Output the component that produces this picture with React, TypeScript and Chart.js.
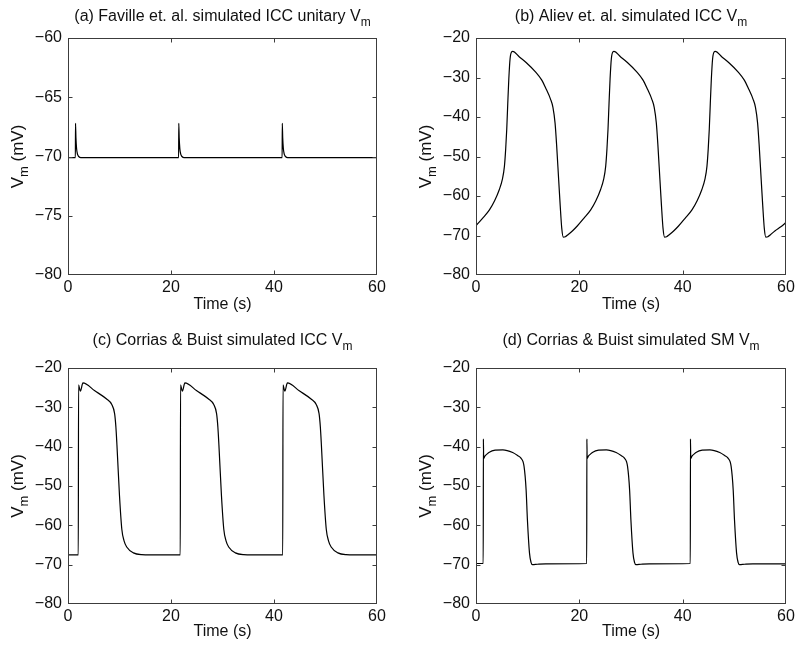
import React, { useEffect, useRef } from "react";
import { Chart, registerables } from "chart.js";

Chart.register(...registerables);

const FONT = "'Liberation Sans', Arial, Helvetica, sans-serif";
const INK = "#111111";

// ---------- shared axis values ----------
const timeTicks = [0, 20, 40, 60];
const faVmTicks = [-80, -75, -70, -65, -60];
const vmTicks = [-80, -70, -60, -50, -40, -30, -20];

// ---------- (a) Faville et al. ICC unitary Vm ----------
const aTime = [
  0, 1.43, 1.46, 1.54, 1.66, 1.84, 2.08, 2.5,
  21.48, 21.51, 21.59, 21.71, 21.89, 22.13, 22.55,
  41.58, 41.61, 41.69, 41.81, 41.99, 42.23, 42.65,
  60,
];
const aVm = [
  -70.1, -70.1, -67.2, -68.4, -69.3, -69.8, -70.0, -70.1,
  -70.1, -67.2, -68.4, -69.3, -69.8, -70.0, -70.1,
  -70.1, -67.2, -68.4, -69.3, -69.8, -70.0, -70.1,
  -70.1,
];

// ---------- (b) Aliev et al. ICC Vm ----------
const bTime = [
  0, 1.3, 2.6, 3.6, 4.5, 5.1, 5.5, 5.75, 5.95, 6.15, 6.35, 6.6, 6.9, 7.1,
  8.4, 9.7, 11.6, 12.7, 13.6, 14.4, 14.9, 15.3, 15.6, 16.0, 16.3, 16.6, 16.9, 17.3, 17.8, 18.7,
  19.6, 20.9, 22.2, 23.2, 24.1, 24.7, 25.1, 25.35, 25.55, 25.75, 25.95, 26.2, 26.5, 26.7,
  28.0, 29.3, 31.2, 32.3, 33.2, 34.0, 34.5, 34.9, 35.2, 35.6, 35.9, 36.2, 36.5, 36.9, 37.4, 38.3,
  39.2, 40.5, 41.8, 42.8, 43.7, 44.3, 44.7, 44.95, 45.15, 45.35, 45.55, 45.8, 46.1, 46.3,
  47.6, 48.9, 50.8, 51.9, 52.8, 53.6, 54.1, 54.5, 54.8, 55.2, 55.5, 55.8, 56.1, 56.5, 57.0, 57.9,
  59.0, 60,
];
const bVm = [
  -67.5, -65.6, -63.5, -61.2, -58.4, -55.8, -52.5, -48.0, -43.1, -36.5, -30.4, -25.2, -23.5, -23.4,
  -24.8, -26.2, -28.7, -30.6, -33.0, -35.4, -37.6, -41.5, -47.0, -55.9, -62.5, -68.2, -70.4, -70.3, -69.8, -68.8,
  -67.6, -65.6, -63.5, -61.2, -58.4, -55.8, -52.5, -48.0, -43.1, -36.5, -30.4, -25.2, -23.5, -23.4,
  -24.8, -26.2, -28.7, -30.6, -33.0, -35.4, -37.6, -41.5, -47.0, -55.9, -62.5, -68.2, -70.4, -70.3, -69.8, -68.8,
  -67.6, -65.6, -63.5, -61.2, -58.4, -55.8, -52.5, -48.0, -43.1, -36.5, -30.4, -25.2, -23.5, -23.4,
  -24.8, -26.2, -28.7, -30.6, -33.0, -35.4, -37.6, -41.5, -47.0, -55.9, -62.5, -68.2, -70.4, -70.3, -69.8, -68.8,
  -67.8, -66.7,
];

// ---------- (c) Corrias & Buist ICC Vm ----------
const cTime = [
  0, 2.0, 2.05, 2.4, 2.9, 5.2, 7.5, 8.5, 9.05, 9.3, 9.5, 10.0, 10.45, 10.9, 11.4, 12.7, 14.3, 16.0,
  21.8, 21.85, 22.2, 22.7, 25.0, 27.3, 28.3, 28.85, 29.1, 29.3, 29.8, 30.25, 30.7, 31.2, 32.5, 34.1, 35.8,
  41.7, 41.75, 42.1, 42.6, 44.9, 47.2, 48.2, 48.75, 49.0, 49.2, 49.7, 50.15, 50.6, 51.1, 52.4, 54.0, 55.7,
  60,
];
const cVm = [
  -67.5, -67.5, -24.3, -25.9, -23.8, -25.8, -27.9, -29.3, -31.6, -35.0, -39.5, -52.5, -61.0, -64.0, -65.5, -67.0, -67.45, -67.5,
  -67.5, -24.3, -25.9, -23.8, -25.8, -27.9, -29.3, -31.6, -35.0, -39.5, -52.5, -61.0, -64.0, -65.5, -67.0, -67.45, -67.5,
  -67.5, -24.3, -25.9, -23.8, -25.8, -27.9, -29.3, -31.6, -35.0, -39.5, -52.5, -61.0, -64.0, -65.5, -67.0, -67.45, -67.5,
  -67.5,
];

// ---------- (d) Corrias & Buist SM Vm ----------
const dTime = [
  0, 1.40, 1.43, 1.48, 1.72, 2.12, 2.58, 3.7, 5.2, 7.1, 8.1, 8.7, 9.3, 9.7, 9.95, 10.35, 10.65, 10.95, 11.9, 13.5,
  21.43, 21.46, 21.51, 21.75, 22.15, 22.61, 23.73, 25.23, 27.13, 28.13, 28.73, 29.33, 29.73, 29.98, 30.38, 30.68, 30.98, 31.93, 33.53,
  41.48, 41.51, 41.56, 41.8, 42.2, 42.66, 43.78, 45.28, 47.18, 48.18, 48.78, 49.38, 49.78, 50.03, 50.43, 50.73, 51.03, 51.98, 53.58,
  60,
];
const dVm = [
  -69.7, -69.7, -38.0, -43.0, -42.4, -41.9, -41.4, -40.9, -40.8, -41.5, -42.3, -42.9, -45.0, -51.0, -58.6, -67.0, -69.4, -70.0, -69.9, -69.8,
  -69.7, -38.0, -43.0, -42.4, -41.9, -41.4, -40.9, -40.8, -41.5, -42.3, -42.9, -45.0, -51.0, -58.6, -67.0, -69.4, -70.0, -69.9, -69.8,
  -69.7, -38.0, -43.0, -42.4, -41.9, -41.4, -40.9, -40.8, -41.5, -42.3, -42.9, -45.0, -51.0, -58.6, -67.0, -69.4, -70.0, -69.9, -69.8,
  -69.8,
];

// ---------- panel text ----------
const panelTitles = [
  "(a) Faville et. al. simulated ICC unitary V",
  "(b) Aliev et. al. simulated ICC V",
  "(c) Corrias & Buist simulated ICC V",
  "(d) Corrias & Buist simulated SM V",
];
const titleSub = "m";
const xLabel = "Time (s)";
const yLabelMain = "V";
const yLabelSub = "m";
const yLabelRest = " (mV)";

type Panel = {
  left: number; top: number; w: number; h: number;
  pl: number; pr: number; pt: number; pb: number;
  title: string; titleY: number; ylabX: number; xTitlePad: number;
  time: number[]; vm: number[]; yTicks: number[];
};

const panels: Panel[] = [
  { left: 0, top: 0, w: 400, h: 325, pl: 68, pr: 377, pt: 38, pb: 275, title: panelTitles[0], titleY: 21, ylabX: 23, xTitlePad: 11, time: aTime, vm: aVm, yTicks: faVmTicks },
  { left: 400, top: 0, w: 400, h: 325, pl: 76, pr: 386, pt: 38, pb: 275, title: panelTitles[1], titleY: 21, ylabX: 31, xTitlePad: 11, time: bTime, vm: bVm, yTicks: vmTicks },
  { left: 0, top: 325, w: 400, h: 326, pl: 68, pr: 377, pt: 43, pb: 279, title: panelTitles[2], titleY: 20, ylabX: 23, xTitlePad: 10, time: cTime, vm: cVm, yTicks: vmTicks },
  { left: 400, top: 325, w: 400, h: 326, pl: 76, pr: 386, pt: 43, pb: 279, title: panelTitles[3], titleY: 20, ylabX: 31, xTitlePad: 10, time: dTime, vm: dVm, yTicks: vmTicks },
];

const fmt = (v: number) => (v < 0 ? "\u2212" + Math.abs(v) : String(v));

function makeFramePlugin(p: Panel) {
  return {
    id: "matlabFrame",
    afterDraw(chart: any) {
      const { ctx, chartArea: ca, scales } = chart;
      ctx.save();
      const L = Math.round(ca.left) + 0.5;
      const R = Math.round(ca.right) - 0.5;
      const T = Math.round(ca.top) + 0.5;
      const B = Math.round(ca.bottom) - 0.5;
      ctx.strokeStyle = "#3c3c3c";
      ctx.lineWidth = 1;
      ctx.strokeRect(L, T, R - L, B - T);
      const tl = 4;
      ctx.beginPath();
      scales.x.ticks.forEach((t: any) => {
        const px = Math.round(scales.x.getPixelForValue(t.value)) + 0.5;
        if (px <= L + 1 || px >= R - 1) return;
        ctx.moveTo(px, B); ctx.lineTo(px, B - tl);
        ctx.moveTo(px, T); ctx.lineTo(px, T + tl);
      });
      scales.y.ticks.forEach((t: any) => {
        const py = Math.round(scales.y.getPixelForValue(t.value)) + 0.5;
        if (py <= T + 1 || py >= B - 1) return;
        ctx.moveTo(L, py); ctx.lineTo(L + tl, py);
        ctx.moveTo(R, py); ctx.lineTo(R - tl, py);
      });
      ctx.stroke();

      // title with subscript
      ctx.fillStyle = INK;
      ctx.textBaseline = "alphabetic";
      ctx.textAlign = "left";
      const mainFont = `16px ${FONT}`;
      const subFont = `12px ${FONT}`;
      ctx.font = mainFont;
      const wMain = ctx.measureText(p.title).width;
      ctx.font = subFont;
      const wSub = ctx.measureText(titleSub).width;
      const cx = (ca.left + ca.right) / 2;
      const x0 = cx - (wMain + wSub) / 2;
      ctx.font = mainFont;
      ctx.fillText(p.title, x0, p.titleY);
      ctx.font = subFont;
      ctx.fillText(titleSub, x0 + wMain, p.titleY + 5);

      // y label with subscript, rotated
      const yMainFont = `17px ${FONT}`;
      const ySubFont = `13px ${FONT}`;
      ctx.font = yMainFont;
      const w1 = ctx.measureText(yLabelMain).width;
      const w3 = ctx.measureText(yLabelRest).width;
      ctx.font = ySubFont;
      const w2 = ctx.measureText(yLabelSub).width;
      const total = w1 + w2 + w3;
      ctx.translate(p.ylabX, (ca.top + ca.bottom) / 2);
      ctx.rotate(-Math.PI / 2);
      let x = -total / 2;
      ctx.font = yMainFont;
      ctx.fillText(yLabelMain, x, 0);
      x += w1;
      ctx.font = ySubFont;
      ctx.fillText(yLabelSub, x, 5);
      x += w2;
      ctx.font = yMainFont;
      ctx.fillText(yLabelRest, x, 0);
      ctx.restore();
    },
  };
}

function PanelChart({ p }: { p: Panel }) {
  const ref = useRef<HTMLCanvasElement | null>(null);
  useEffect(() => {
    if (!ref.current) return;
    const points = p.time.map((t, i) => ({ x: t, y: p.vm[i] }));
    const chart = new Chart(ref.current, {
      type: "line",
      data: {
        datasets: [
          {
            data: points,
            borderColor: "#000000",
            borderWidth: 1.2,
            pointRadius: 0,
            fill: false,
            cubicInterpolationMode: "monotone",
          },
        ],
      },
      options: {
        responsive: false,
        animation: false,
        devicePixelRatio: 1,
        layout: { padding: { left: 0, top: p.pt, right: p.w - p.pr, bottom: 0 } },
        plugins: { legend: { display: false }, tooltip: { enabled: false }, title: { display: false } },
        events: [],
        scales: {
          x: {
            type: "linear",
            min: timeTicks[0],
            max: timeTicks[timeTicks.length - 1],
            afterBuildTicks: (s: any) => { s.ticks = timeTicks.map((v) => ({ value: v })); },
            afterFit: (s: any) => { s.height = p.h - p.pb; },
            grid: { display: false, drawTicks: false },
            border: { display: false },
            ticks: {
              color: INK,
              font: { family: FONT, size: 16 },
              padding: 3,
              maxRotation: 0,
              callback: (v: any) => fmt(Number(v)),
            },
            title: {
              display: true,
              text: xLabel,
              color: INK,
              font: { family: FONT, size: 16 },
              padding: { top: 0, bottom: p.xTitlePad },
            },
          },
          y: {
            type: "linear",
            min: p.yTicks[0],
            max: p.yTicks[p.yTicks.length - 1],
            afterBuildTicks: (s: any) => { s.ticks = p.yTicks.map((v) => ({ value: v })); },
            afterFit: (s: any) => { s.width = p.pl; },
            grid: { display: false, drawTicks: false },
            border: { display: false },
            ticks: {
              color: INK,
              font: { family: FONT, size: 16 },
              padding: 6,
              callback: (v: any) => fmt(Number(v)),
            },
          },
        },
      },
      plugins: [makeFramePlugin(p)],
    } as any);
    return () => chart.destroy();
  }, [p]);
  return (
    <canvas
      ref={ref}
      width={p.w}
      height={p.h}
      style={{ position: "absolute", left: p.left, top: p.top, width: p.w, height: p.h }}
    />
  );
}

export default function App() {
  return (
    <div style={{ position: "absolute", left: 0, top: 0, width: 800, height: 651, background: "#ffffff" }}>
      {panels.map((p, i) => (
        <PanelChart key={i} p={p} />
      ))}
    </div>
  );
}
